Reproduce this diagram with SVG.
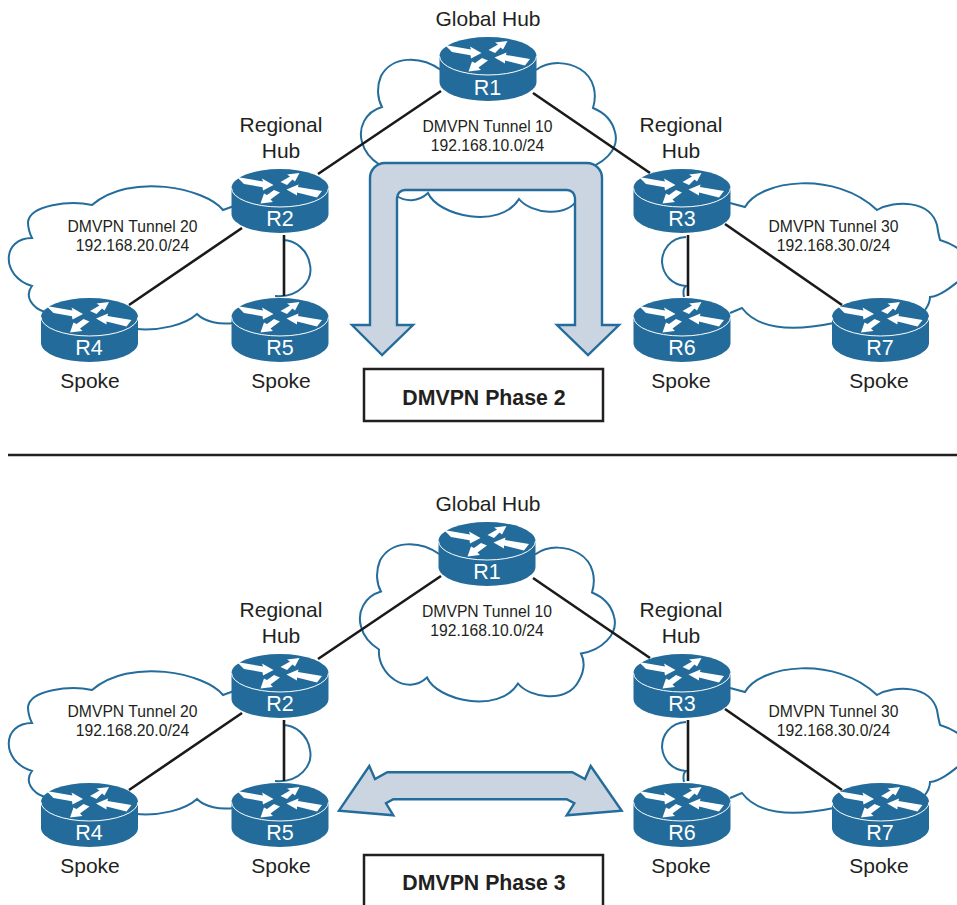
<svg xmlns="http://www.w3.org/2000/svg" xmlns:xlink="http://www.w3.org/1999/xlink" width="957" height="905" viewBox="0 0 957 905">
<style>
text{font-family:"Liberation Sans",Arial,sans-serif;fill:#231f20;text-anchor:middle}
.lb{font-size:21px}
.tn{font-size:15.7px}
.ph{font-size:21.3px;font-weight:bold}
.rn{font-size:21.5px;fill:#fff}
.cl{fill:none;stroke:#236c9b;stroke-width:2}
.ln{fill:none;stroke:#1a1a1a;stroke-width:2.6}
.ar{fill:#cbd4e1;stroke:#236c9b;stroke-width:2.4;stroke-linejoin:miter}
.bx{fill:#fff;stroke:#231f20;stroke-width:2.5}
</style>
<defs>
<g id="rt">
<path d="M-48.5,0V26A48.5,19 0 0 0 48.5,26V0Z" fill="#226b9a"/>
<ellipse cx="0" cy="0" rx="48.5" ry="19" fill="#226b9a"/>
<path d="M-48.5,0A48.5,19 0 0 0 48.5,0" fill="none" stroke="#fff" stroke-width="1"/>
<g fill="#fff">
<polygon points="-43,-11 -17,-6.5 -18,-9.5 -6.5,-3 -17,2.5 -17.5,-0.8 -36,-4"/>
<polygon points="0.5,-6 10,-11.5 7,-13.5 19.5,-15 15,-6.5 12.5,-8.5 7,-3"/>
<polygon points="-6,2 -13,7 -16,5.5 -19.5,15.5 -7,14 -9.5,11.5 0,4.5"/>
<polygon points="42,3 18,-1 18.5,-3.5 6.5,1.5 17,7.5 17,4.5 37,9.5"/>
</g>
</g>
<path id="c10" class="cl" d="M441,70C420,55 392,56 381,76C376,88 378,100 382,107C365,112 358,128 362,142C365,154 372,160 380,165C378,190 408,212 428,193C438,216 500,230 519,199C530,213 568,220 580,196C585,187 586,177 582,169C602,166 620,150 615,132C612,120 603,112 593,108C597,95 595,78 580,69C568,62 550,60 536,70"/>
<path id="c20" class="cl" d="M234,206L223,210C205,188 130,172 92,205C70,200 30,205 28,222C28,228 30,234 32,238C2,238 0,276 32,286C24,296 32,308 45,312M136,329C160,331 185,325 197,314C205,322 220,325 234,323M275,296C300,298 313,280 310,265C308,250 295,240 283,240"/>
<path id="c30" class="cl" d="M730,203L745,207C760,180 835,170 877,210C895,200 930,200 937,225C938,232 939,236 940,240C950,243 955,246 960,250M960,280C950,288 940,296 930,297C930,302 928,306 925,310M834,323C800,330 760,332 742,308L730,313M686,237C670,238 662,250 662,262C663,275 672,285 686,286C683,288 683,292 684,297"/>
</defs>

<g id="clouds">
<use href="#c10"/>
<use href="#c20"/>
<use href="#c30"/>
<use href="#c10" transform="translate(-1,484.5)"/>
<use href="#c20" transform="translate(0,485)"/>
<use href="#c30" transform="translate(0,485)"/>
</g>

<g id="connectors">
<path class="ln" d="M441,91L318,174M533,93L650,173M242,228L129,305M284,235V296M725,224L842,305M688,235V296"/>
<path class="ln" d="M441,576L318,659M533,578L650,658M242,713L129,790M284,720V781M725,709L842,790M688,720V781"/>
</g>

<g id="phase2-arrow">
<path class="ar" d="M382,355L352,325H370V178A15,15 0 0 1 385,163H587A15,15 0 0 1 602,178V325H619L588,355L557,325H575V198A8,8 0 0 0 567,190H405A8,8 0 0 0 397,198V325H413Z"/>
</g>
<g id="phase3-arrow">
<path class="ar" d="M339,810.7L369.3,766L375,779L387.3,772.3H572.3L585,779L590.7,766L621.7,810.7L566.7,815.3L574.3,803.3L566.7,799.3H393.3L386,803.3L393.3,815.3Z"/>
</g>

<g id="top-R1"><use href="#rt" x="488" y="56"/><text class="rn" x="487.5" y="94.5">R1</text><text class="lb" x="488" y="26">Global Hub</text></g>
<g id="top-R2"><use href="#rt" x="280" y="188"/><text class="rn" x="280" y="226">R2</text><text class="lb" x="281" y="132">Regional</text><text class="lb" x="281" y="158">Hub</text></g>
<g id="top-R3"><use href="#rt" x="682" y="188"/><text class="rn" x="682" y="226">R3</text><text class="lb" x="681" y="132">Regional</text><text class="lb" x="681" y="158">Hub</text></g>
<g id="top-R4"><use href="#rt" x="89.5" y="317"/><text class="rn" x="89" y="355">R4</text><text class="lb" x="90" y="388">Spoke</text></g>
<g id="top-R5"><use href="#rt" x="280" y="317"/><text class="rn" x="280" y="355">R5</text><text class="lb" x="281" y="388">Spoke</text></g>
<g id="top-R6"><use href="#rt" x="682" y="317"/><text class="rn" x="682" y="355">R6</text><text class="lb" x="681" y="388">Spoke</text></g>
<g id="top-R7"><use href="#rt" x="880.5" y="317"/><text class="rn" x="880" y="355">R7</text><text class="lb" x="879" y="388">Spoke</text></g>

<g id="top-labels">
<text class="tn" x="487.5" y="132">DMVPN Tunnel 10</text><text class="tn" x="487.5" y="151">192.168.10.0/24</text>
<text class="tn" x="132.5" y="232">DMVPN Tunnel 20</text><text class="tn" x="132.5" y="251">192.168.20.0/24</text>
<text class="tn" x="833.5" y="232">DMVPN Tunnel 30</text><text class="tn" x="833.5" y="251">192.168.30.0/24</text>
</g>
<g id="phase2"><rect class="bx" x="364" y="369" width="239" height="52"/><text class="ph" x="484" y="405">DMVPN Phase 2</text></g>
<path id="divider" d="M8,455H957" stroke="#231f20" stroke-width="2.5" fill="none"/>

<g id="bot-R1"><use href="#rt" x="487" y="541"/><text class="rn" x="487" y="579">R1</text><text class="lb" x="488" y="511">Global Hub</text></g>
<g id="bot-R2"><use href="#rt" x="280" y="673"/><text class="rn" x="280" y="711">R2</text><text class="lb" x="281" y="617">Regional</text><text class="lb" x="281" y="643">Hub</text></g>
<g id="bot-R3"><use href="#rt" x="682" y="673"/><text class="rn" x="682" y="711">R3</text><text class="lb" x="681" y="617">Regional</text><text class="lb" x="681" y="643">Hub</text></g>
<g id="bot-R4"><use href="#rt" x="89.5" y="802"/><text class="rn" x="89" y="840">R4</text><text class="lb" x="90" y="873">Spoke</text></g>
<g id="bot-R5"><use href="#rt" x="280" y="802"/><text class="rn" x="280" y="840">R5</text><text class="lb" x="281" y="873">Spoke</text></g>
<g id="bot-R6"><use href="#rt" x="682" y="802"/><text class="rn" x="682" y="840">R6</text><text class="lb" x="681" y="873">Spoke</text></g>
<g id="bot-R7"><use href="#rt" x="880.5" y="802"/><text class="rn" x="880" y="840">R7</text><text class="lb" x="879" y="873">Spoke</text></g>

<g id="bot-labels">
<text class="tn" x="487" y="617">DMVPN Tunnel 10</text><text class="tn" x="487" y="636">192.168.10.0/24</text>
<text class="tn" x="132.5" y="717">DMVPN Tunnel 20</text><text class="tn" x="132.5" y="736">192.168.20.0/24</text>
<text class="tn" x="833.5" y="717">DMVPN Tunnel 30</text><text class="tn" x="833.5" y="736">192.168.30.0/24</text>
</g>
<g id="phase3"><rect class="bx" x="364" y="855" width="239" height="54"/><text class="ph" x="484" y="890">DMVPN Phase 3</text></g>
</svg>
